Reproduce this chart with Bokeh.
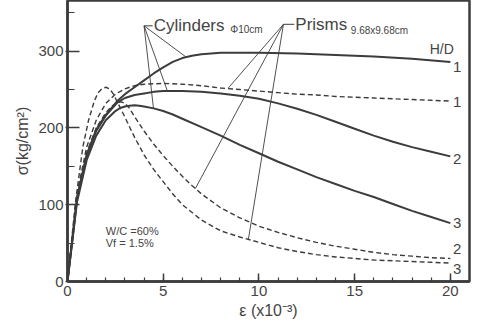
from bokeh.plotting import figure
from bokeh.models import SingleIntervalTicker, Range1d, Label
from bokeh.embed import file_html
from bokeh.resources import INLINE

# ---- data (strain x10^-3, stress kg/cm2) ----
cyl1_x = [0, 0.5, 1, 1.5, 2, 2.6, 3, 3.5, 4, 4.5, 5, 5.5, 6, 6.5, 7, 7.5, 8, 9, 10, 12, 14, 16, 18, 20]
cyl1_y = [0, 110, 165, 198, 217, 235, 244, 253, 262, 271, 279, 286, 291, 294, 296, 297, 298, 298, 298, 297, 295, 293, 290, 286]

cyl2_x = [0, 0.5, 1, 1.5, 2, 2.6, 3, 3.5, 4, 4.5, 5, 6, 7, 8, 9, 10, 11, 12, 13, 14, 15, 16, 17, 18, 19, 20]
cyl2_y = [0, 108, 163, 196, 216, 233, 239, 243, 245, 247, 248, 248, 247, 245, 242, 238, 232, 225, 217, 208, 199, 190, 182, 175, 169, 163]

cyl3_x = [0, 0.5, 1, 1.5, 2, 2.5, 2.75, 3, 3.25, 3.5, 3.75, 4, 4.5, 5, 5.5, 6, 7, 8, 9, 10, 11, 12, 13, 14, 15, 16, 17, 18, 19, 20]
cyl3_y = [0, 104, 158, 190, 210, 222, 226, 228, 229, 229.5, 229, 228, 225.5, 222, 217.5, 212, 201, 190, 178, 167, 156, 146, 136, 127, 118, 110, 101, 92, 84, 76]

pri1_x = [0, 0.5, 1, 1.5, 2, 2.5, 3, 3.5, 4, 5, 6, 7, 8, 9, 10, 11, 12, 13, 14, 15, 16, 17, 18, 19, 20]
pri1_y = [0, 115, 175, 210, 232, 244, 251, 255, 257, 258, 257, 255, 252, 250, 248, 246, 244, 243, 241, 240, 239, 238, 237, 236, 235]

pri2_x = [0, 0.5, 1, 1.5, 2, 2.3, 2.6, 2.8, 3.0, 3.2, 3.5, 4, 4.5, 5, 5.5, 6, 6.5, 7, 8, 9, 10, 11, 12, 13, 14, 15, 16, 17, 18, 19, 20]
pri2_y = [0, 110, 168, 200, 220, 228, 233, 234, 232, 227, 215, 196, 179, 164, 150, 137, 125, 114, 96, 83, 72, 64, 57, 51, 46, 42, 38, 35, 33, 31, 30]

pri3_x = [0, 0.4, 0.8, 1.1, 1.4, 1.6, 1.8, 2.0, 2.2, 2.4, 2.6, 3, 3.5, 4, 4.5, 5, 5.5, 6, 7, 8, 9, 10, 11, 12, 13, 14, 15, 16, 17, 18, 19, 20]
pri3_y = [0, 100, 175, 210, 235, 246, 251, 253, 251, 244, 234, 214, 188, 165, 146, 130, 114, 100, 80, 66, 58, 51, 44, 39, 35, 32, 30, 28, 27, 26, 25, 24]

end_labels = ["1", "1", "2", "3", "2", "3"]
end_label_y = [280, 234, 160, 76, 42, 16]

x_ticks_interval = 5
y_ticks_interval = 100

INK = "#3c3c3c"
FONT = "Liberation Sans"

p = figure(width=481, height=324, output_backend="svg", toolbar_location=None,
           x_range=Range1d(0, 21.0), y_range=Range1d(0, 366),
           min_border_left=67, min_border_right=12, min_border_top=0, min_border_bottom=43)
p.grid.visible = False
p.background_fill_color = "white"
p.border_fill_color = "white"
p.outline_line_color = INK
p.outline_line_width = 2.5

p.xaxis.ticker = SingleIntervalTicker(interval=x_ticks_interval, num_minor_ticks=5)
p.yaxis.ticker = SingleIntervalTicker(interval=y_ticks_interval, num_minor_ticks=2)
for ax in (p.xaxis, p.yaxis):
    ax.axis_line_color = INK
    ax.axis_line_width = 2.5
    ax.major_tick_line_color = INK
    ax.minor_tick_line_color = INK
    ax.major_tick_line_width = 1.5
    ax.minor_tick_line_width = 1.2
    ax.major_label_text_font = FONT
    ax.major_label_text_font_size = "15px"
    ax.major_label_text_color = "#444444"
    ax.axis_label_text_font = FONT
    ax.axis_label_text_font_style = "normal"
    ax.axis_label_text_color = "#444444"
p.xaxis.major_tick_in = 8
p.xaxis.major_tick_out = 0
p.xaxis.minor_tick_in = 4
p.xaxis.minor_tick_out = 0
p.xaxis.major_label_standoff = 4
p.yaxis.major_tick_in = 12
p.yaxis.major_tick_out = 2
p.yaxis.minor_tick_in = 7
p.yaxis.minor_tick_out = 0
p.yaxis.major_label_standoff = 2
p.xaxis.axis_label = "ε (x10⁻³)"
p.xaxis.axis_label_text_font_size = "16px"
p.xaxis.axis_label_standoff = 3
p.yaxis.axis_label = "σ(kg/cm²)"
p.yaxis.axis_label_text_font_size = "16px"
p.yaxis.axis_label_standoff = 4

# curves
for xs, ys in [(cyl1_x, cyl1_y), (cyl2_x, cyl2_y), (cyl3_x, cyl3_y)]:
    p.line(xs, ys, line_color=INK, line_width=2.0, line_join="round")
for xs, ys in [(pri1_x, pri1_y), (pri2_x, pri2_y), (pri3_x, pri3_y)]:
    p.line(xs, ys, line_color=INK, line_width=1.4, line_dash="5 3", line_join="round")

# leader lines
cyl_hub = (4.0, 333)
cyl_targets = [(6.16, 293), (5.22, 248), (4.49, 226)]
for tx, ty in cyl_targets:
    p.line([cyl_hub[0], tx], [cyl_hub[1], ty], line_color=INK, line_width=0.9)
p.line([4.0, 4.45], [333, 333], line_color=INK, line_width=1.0)

pri_hub = (11.28, 335)
pri_targets = [(8.4, 252), (6.68, 121), (9.45, 55)]
for tx, ty in pri_targets:
    p.line([pri_hub[0], tx], [pri_hub[1], ty], line_color=INK, line_width=0.9)
p.line([11.28, 11.85], [335, 335], line_color=INK, line_width=1.0)

def txt(x, y, s, size, align="left"):
    p.add_layout(Label(x=x, y=y, text=s, text_font=FONT, text_font_size=size,
                       text_color="#444444", text_align=align, text_baseline="middle"))

txt(4.5, 333, "Cylinders", "17px")
txt(8.5, 328, "Φ10cm", "10px")
txt(11.9, 335, "Prisms", "17px")
txt(14.8, 327, "9.68x9.68cm", "10px")
txt(19.55, 303, "H/D", "14px", "center")
for s, y in zip(end_labels, end_label_y):
    txt(20.35, y, s, "15px", "center")
txt(2.0, 66, "W/C =60%", "11px")
txt(2.0, 50, "Vf  = 1.5%", "11px")

open("out.html", "w").write(file_html(p, INLINE))
